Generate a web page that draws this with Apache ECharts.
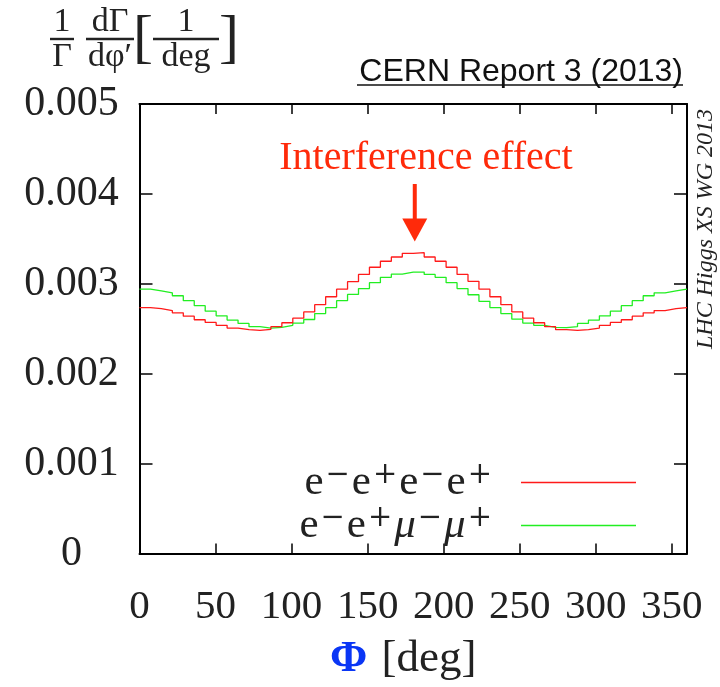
<!DOCTYPE html>
<html>
<head>
<meta charset="utf-8">
<script src="https://cdn.jsdelivr.net/npm/echarts@6/dist/echarts.min.js"></script>
<style>
  html, body { margin: 0; padding: 0; background: #ffffff; }
  #main { width: 720px; height: 687px; }
</style>
</head>
<body>
<div id="main"></div>
<script>
// Azimuthal angle range and binning (degrees)
const phiMin = 0;
const phiMax = 360;
const binCount = 50;

// Normalised distributions (1/Gamma dGamma/dphi, per degree), one value per bin
const eeeeValues = [
  0.002735, 0.002724, 0.002702, 0.002677, 0.002640, 0.002600, 0.002570, 0.002538, 0.002508, 0.002490,
  0.002483, 0.002494, 0.002523, 0.002567, 0.002618, 0.002687, 0.002768, 0.002856, 0.002940, 0.003024,
  0.003104, 0.003184, 0.003251, 0.003298, 0.003339, 0.003346, 0.003298, 0.003251, 0.003184, 0.003104,
  0.003028, 0.002940, 0.002856, 0.002768, 0.002687, 0.002618, 0.002567, 0.002523, 0.002490, 0.002483,
  0.002490, 0.002508, 0.002538, 0.002570, 0.002600, 0.002640, 0.002677, 0.002702, 0.002724, 0.002735
];
const eemmValues = [
  0.002940, 0.002922, 0.002900, 0.002867, 0.002812, 0.002757, 0.002695, 0.002644, 0.002596, 0.002559,
  0.002523, 0.002508, 0.002516, 0.002538, 0.002563, 0.002603, 0.002669, 0.002735, 0.002812, 0.002882,
  0.002947, 0.003013, 0.003072, 0.003108, 0.003130, 0.003130, 0.003104, 0.003072, 0.003013, 0.002947,
  0.002878, 0.002805, 0.002735, 0.002669, 0.002607, 0.002563, 0.002538, 0.002516, 0.002512, 0.002523,
  0.002559, 0.002596, 0.002644, 0.002695, 0.002757, 0.002812, 0.002867, 0.002900, 0.002922, 0.002940
];

// Axis ticks
const xTickStep = 50;
const yMax = 0.005;
const yTickStep = 0.001;
const yTickLabels = ['0', '0.001', '0.002', '0.003', '0.004', '0.005'];

// Legend entries (rich text)
const legendNames = ['eeee', 'eemm'];
const legendLabels = {
  eeee: '{b|e}{s|−}{b|e}{s|+}{b|e}{s|−}{b|e}{s|+}',
  eemm: '{b|e}{s|−}{b|e}{s|+}{m|μ}{s|−}{m|μ}{s|+}'
};

// Annotation position (data coordinates)
const peakPhi = 181;
const arrowTop = 0.00411;
const arrowTip = 0.00347;

const SERIF = '"Liberation Serif", "DejaVu Serif", serif';
const SANS = '"Liberation Sans", Arial, sans-serif';

// Turn per-bin values into step points on the bin edges
function histogramPoints(values) {
  const width = (phiMax - phiMin) / values.length;
  const pts = values.map((v, i) => [phiMin + i * width, v]);
  pts.push([phiMax, values[values.length - 1]]);
  return pts;
}

const chart = echarts.init(document.getElementById('main'), null, { renderer: 'canvas' });

const frameAxis = {
  min: phiMin, max: phiMax, interval: xTickStep, type: 'value',
  axisLine: { show: true, onZero: false, lineStyle: { color: '#000', width: 2 } },
  axisTick: { show: true, inside: true, length: 10, lineStyle: { color: '#000', width: 1.5 } },
  splitLine: { show: false }
};
const frameYAxis = {
  min: 0, max: yMax, interval: yTickStep, type: 'value',
  axisLine: { show: true, onZero: false, lineStyle: { color: '#000', width: 2 } },
  axisTick: { show: true, inside: true, length: 13, lineStyle: { color: '#000', width: 1.5 } },
  splitLine: { show: false }
};

chart.setOption({
  animation: false,
  backgroundColor: '#ffffff',
  grid: { left: 139.5, right: 33, top: 104, bottom: 128, containLabel: false },
  xAxis: [
    Object.assign({}, frameAxis, {
      position: 'bottom',
      axisLabel: {
        show: true, showMaxLabel: false, margin: 54, verticalAlign: 'middle',
        fontFamily: SERIF, fontSize: 41, color: '#222'
      },
      name: '{phi|Φ}{gap| }{u|[deg]}',
      nameLocation: 'middle',
      nameGap: 106,
      nameTextStyle: {
        verticalAlign: 'middle',
        padding: [0, 20, 0, 0],
        rich: {
          phi: { fontFamily: SERIF, fontWeight: 'bold', fontSize: 45, color: '#0a36f5' },
          gap: { fontFamily: SERIF, fontSize: 45, width: 14 },
          u: { fontFamily: SERIF, fontSize: 45, color: '#222' }
        }
      }
    }),
    Object.assign({}, frameAxis, { position: 'top', axisLabel: { show: false } })
  ],
  yAxis: [
    Object.assign({}, frameYAxis, {
      position: 'left',
      axisLabel: {
        show: true, margin: 68, align: 'center',
        fontFamily: SERIF, fontSize: 42, color: '#222',
        formatter: (v, i) => yTickLabels[i]
      }
    }),
    Object.assign({}, frameYAxis, { position: 'right', axisLabel: { show: false } })
  ],
  legend: {
    data: legendNames,
    orient: 'vertical',
    align: 'right',
    right: 79,
    top: 456,
    itemGap: 0,
    itemWidth: 115,
    itemHeight: 1.3,
    icon: 'rect',
    selectedMode: false,
    formatter: name => legendLabels[name],
    textStyle: {
      padding: [0, 22, 0, 0],
      rich: {
        b: { fontFamily: SERIF, fontSize: 43, color: '#222', lineHeight: 43, verticalAlign: 'bottom' },
        m: { fontFamily: SERIF, fontStyle: 'italic', fontSize: 43, color: '#222', lineHeight: 43, verticalAlign: 'bottom' },
        s: { fontFamily: '"DejaVu Serif", serif', fontSize: 29, color: '#222', lineHeight: 18, verticalAlign: 'top', padding: [0, 2, 0, 2] }
      }
    }
  },
  series: [
    {
      name: 'eeee', type: 'line', step: 'end', symbol: 'none',
      data: histogramPoints(eeeeValues),
      lineStyle: { color: '#ff1a1a', width: 1.3 },
      itemStyle: { color: '#ff1a1a' },
      z: 3
    },
    {
      name: 'eemm', type: 'line', step: 'end', symbol: 'none',
      data: histogramPoints(eemmValues),
      lineStyle: { color: '#22ee22', width: 1.3 },
      itemStyle: { color: '#22ee22' },
      z: 2
    }
  ]
});

// Annotations placed through the axis scales
const arrowStart = chart.convertToPixel({ xAxisIndex: 0, yAxisIndex: 0 }, [peakPhi, arrowTop]);
const arrowEnd = chart.convertToPixel({ xAxisIndex: 0, yAxisIndex: 0 }, [peakPhi, arrowTip]);
const headH = 23, headW = 12.5;
const arrowColor = '#ff2a0a';

function fracText(x, y, text, size, italic) {
  return {
    type: 'text', x: x, y: y, silent: true,
    style: {
      text: text, fill: '#222', align: 'center', verticalAlign: 'middle',
      font: (italic ? 'italic ' : '') + size + 'px ' + SERIF
    }
  };
}
function bar(x1, x2, y) {
  return { type: 'line', silent: true, shape: { x1: x1, y1: y, x2: x2, y2: y }, style: { stroke: '#222', lineWidth: 2.4 } };
}

chart.setOption({
  graphic: [
    // y-axis title: 1/Γ dΓ/dφ' [1/deg]
    fracText(62, 22, '1', 34),
    bar(50, 74, 39),
    fracText(62, 57, 'Γ', 34),
    fracText(110, 22, 'dΓ', 34),
    bar(86, 134, 39),
    fracText(110, 57, 'dφ′', 34, false),
    fracText(143, 40, '[', 60),
    fracText(186, 22, '1', 34),
    bar(153, 219, 39),
    fracText(186, 57, 'deg', 34),
    fracText(229, 40, ']', 60),
    // report tag
    {
      type: 'text', x: 683, y: 72, silent: true,
      style: { text: 'CERN Report 3 (2013)', fill: '#111', align: 'right', verticalAlign: 'middle', font: '32px ' + SANS }
    },
    { type: 'line', silent: true, shape: { x1: 357, y1: 85, x2: 683, y2: 85 }, style: { stroke: '#111', lineWidth: 1.6 } },
    // working-group tag on the right edge
    {
      type: 'text', x: 706, y: 229, rotation: Math.PI / 2, silent: true,
      style: { text: 'LHC Higgs XS WG 2013', fill: '#222', align: 'center', verticalAlign: 'middle', font: 'italic 24px ' + SERIF }
    },
    // interference annotation
    {
      type: 'text', x: 426, y: 158, silent: true,
      style: { text: 'Interference effect', fill: arrowColor, align: 'center', verticalAlign: 'middle', font: '40px ' + SERIF }
    },
    {
      type: 'line', silent: true,
      shape: { x1: arrowStart[0], y1: arrowStart[1], x2: arrowEnd[0], y2: arrowEnd[1] - headH + 1 },
      style: { stroke: arrowColor, lineWidth: 4 }
    },
    {
      type: 'polygon', silent: true,
      shape: { points: [[arrowEnd[0] - headW, arrowEnd[1] - headH], [arrowEnd[0] + headW, arrowEnd[1] - headH], [arrowEnd[0], arrowEnd[1]]] },
      style: { fill: arrowColor }
    }
  ]
});
</script>
</body>
</html>
